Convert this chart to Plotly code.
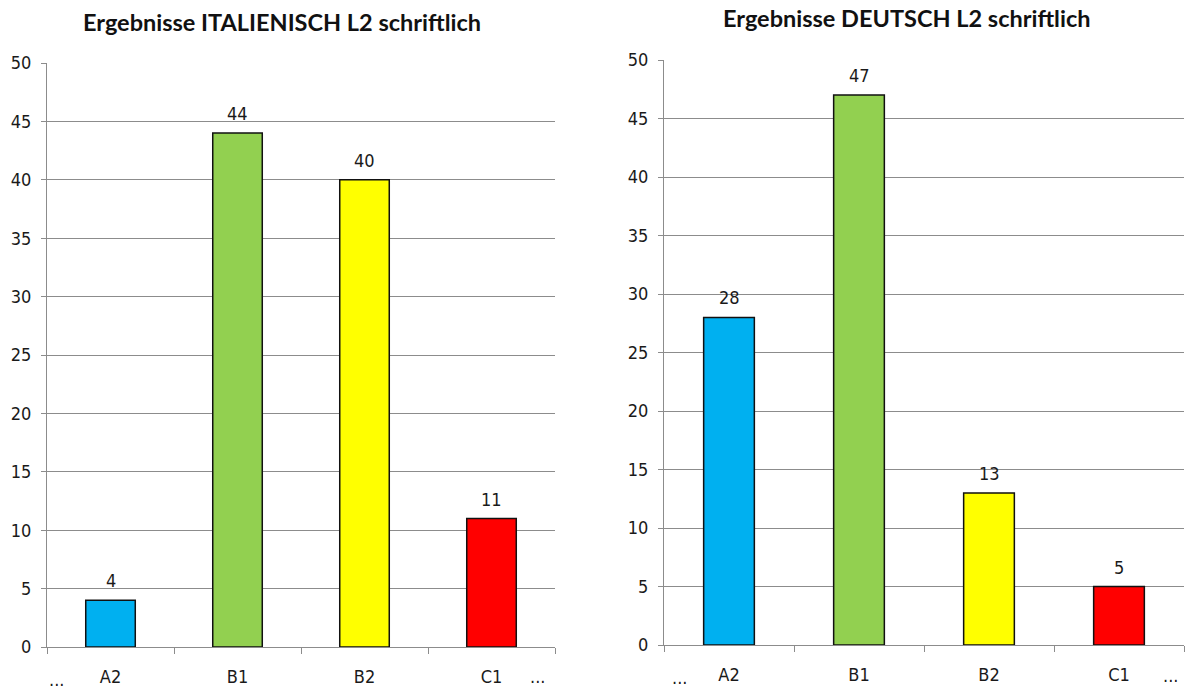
import plotly.graph_objects as go

# Levels and results for the two written L2 exams
levels = ["A2", "B1", "B2", "C1"]
italienisch = [4, 44, 40, 11]
deutsch = [28, 47, 13, 5]
bar_colors = ["#00B0F0", "#92D050", "#FFFF00", "#FF0000"]
y_ticks = [0, 5, 10, 15, 20, 25, 30, 35, 40, 45, 50]
titles = ["Ergebnisse ITALIENISCH L2 schriftlich", "Ergebnisse DEUTSCH L2 schriftlich"]

W, H = 1188, 690
tick_font = dict(family="DejaVu Sans Condensed, DejaVu Sans", size=18, color="#1a1a1a")
title_font = dict(family="Lato, Open Sans, sans-serif", size=23.5, color="#111111")

fig = go.Figure()

panels = [
    dict(vals=italienisch, xa="x", ya="y", xd=[47 / W, 555 / W], yd=[(H - 647) / H, (H - 63) / H],
         title_xy=(282, 22)),
    dict(vals=deutsch, xa="x2", ya="y2", xd=[664 / W, 1184 / W], yd=[(H - 645) / H, (H - 60) / H],
         title_xy=(906, 18)),
]

for i, p in enumerate(panels):
    fig.add_trace(go.Bar(
        x=levels, y=p["vals"], xaxis=p["xa"], yaxis=p["ya"],
        width=0.39,
        marker=dict(color=bar_colors, line=dict(color="#111111", width=1.5)),
        showlegend=False, hoverinfo="x+y",
    ))
    # value labels above the bars
    for lv, v in zip(levels, p["vals"]):
        fig.add_annotation(x=lv, y=v, xref=p["xa"], yref=p["ya"], text=str(v),
                           showarrow=False, yanchor="bottom", xanchor="center",
                           yshift=7, font=tick_font)
    sfx = "" if i == 0 else "2"
    fig.update_layout(**{
        "xaxis" + sfx: dict(
            domain=p["xd"], anchor=p["ya"], type="category",
            categoryorder="array", categoryarray=levels,
            range=[-0.5, 3.5], showgrid=False, zeroline=False,
            showline=True, linecolor="#8C8C8C", linewidth=1.2,
            ticks="outside", tickson="boundaries", ticklen=6,
            tickcolor="#8C8C8C", tickfont=tick_font, ticklabelstandoff=13,
            automargin=False, fixedrange=True,
        ),
        "yaxis" + sfx: dict(
            domain=p["yd"], anchor=p["xa"], range=[0, 50],
            tickvals=y_ticks, showgrid=True, gridcolor="#8C8C8C", gridwidth=1,
            zeroline=False, showline=True, linecolor="#8C8C8C", linewidth=1.2,
            ticks="outside", ticklen=5, tickcolor="#8C8C8C",
            tickfont=tick_font, ticklabelstandoff=6,
            automargin=False, fixedrange=True,
        ),
    })
    # chart title
    tx, ty = p["title_xy"]
    fig.add_annotation(x=tx / W, y=1 - ty / H, xref="paper", yref="paper",
                       text="<b>" + titles[i] + "</b>", showarrow=False,
                       xanchor="center", yanchor="middle", font=title_font)

# ellipsis marks at both ends of the category axes
dots = [(56, 679), (537, 676), (680, 677), (1170, 675)]
for xp, yp in dots:
    fig.add_annotation(x=xp / W, y=1 - yp / H, xref="paper", yref="paper", text="...",
                       showarrow=False, font=tick_font, xanchor="center", yanchor="middle",
                       borderpad=0)

fig.update_layout(
    width=W, height=H,
    margin=dict(l=0, r=0, t=0, b=0, autoexpand=False),
    paper_bgcolor="white", plot_bgcolor="white",
    bargap=0.6,
)

fig.write_html("out.html")
